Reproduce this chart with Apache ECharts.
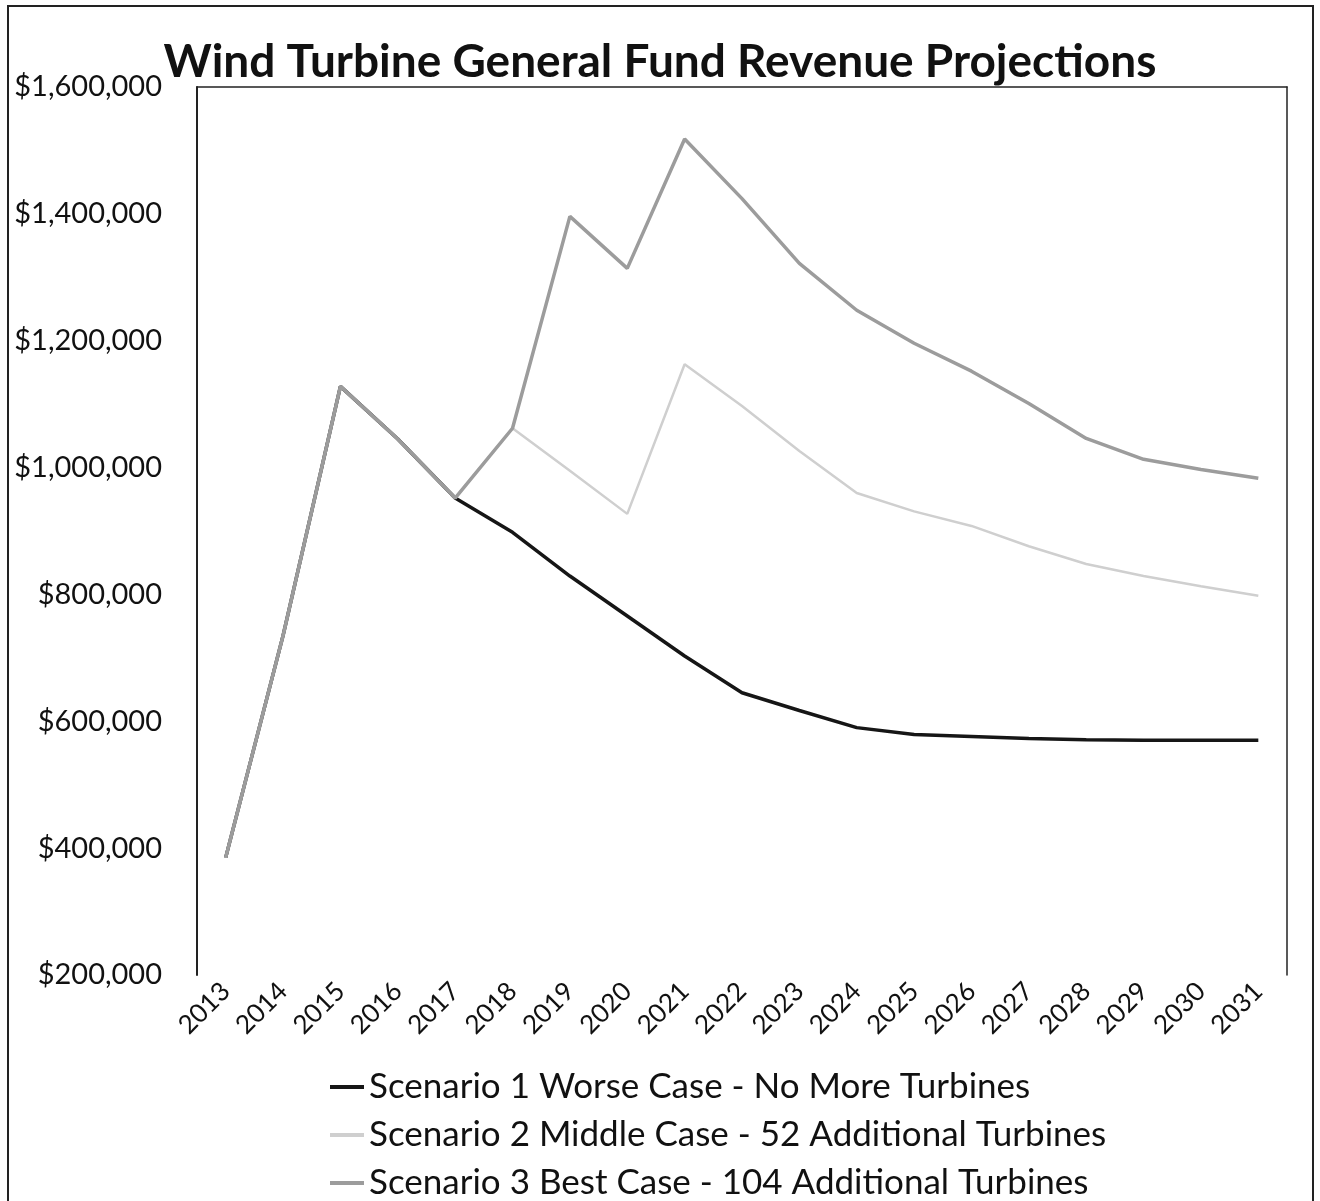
<!DOCTYPE html>
<html>
<head>
<meta charset="utf-8">
<title>Wind Turbine General Fund Revenue Projections</title>
<script src="https://cdn.jsdelivr.net/npm/echarts@6/dist/echarts.min.js"></script>
<style>
  html, body { margin: 0; padding: 0; background: #fff; }
  #chart { width: 1320px; height: 1201px; }
</style>
</head>
<body>
<div id="chart"></div>
<script>
  // years on the x axis
  var years = ['2013', '2014', '2015', '2016', '2017', '2018', '2019', '2020', '2021', '2022',
    '2023', '2024', '2025', '2026', '2027', '2028', '2029', '2030', '2031']

  // revenue per scenario
  var worseCase = [385000, 735000, 1128000, 1045000, 952000, 898000, 829000, 766000, 703000, 645000,
    617000, 590000, 579000, 576000, 573000, 571000, 570000, 570000, 570000]
  var middleCase = [385000, 735000, 1128000, 1045000, 952000, 1062000, 995000, 927000, 1163000, 1097000,
    1026000, 960000, 931000, 908000, 876000, 848000, 829000, 813000, 798000]
  var bestCase = [385000, 735000, 1128000, 1045000, 952000, 1062000, 1396000, 1314000, 1518000, 1424000,
    1322000, 1248000, 1196000, 1152000, 1101000, 1046000, 1013000, 997000, 983000]

  var seriesNames = [
    'Scenario 1 Worse Case - No More Turbines',
    'Scenario 2 Middle Case - 52 Additional Turbines',
    'Scenario 3 Best Case - 104 Additional Turbines'
  ]

  var yMin = 200000
  var yMax = 1600000
  var yStep = 200000

  var font = 'Lato, "Open Sans", sans-serif'

  function money (v) {
    return '$' + String(v).replace(/\B(?=(\d{3})+(?!\d))/g, ',')
  }

  var chart = echarts.init(document.getElementById('chart'))

  chart.setOption({
    backgroundColor: '#fff',
    animation: false,
    title: {
      text: 'Wind Turbine General Fund Revenue Projections',
      left: 'center',
      top: 34,
      textStyle: { fontFamily: font, fontSize: 46, fontWeight: 'bold', color: '#111' }
    },
    graphic: [{
      type: 'rect',
      shape: { x: 8, y: 6, width: 1305, height: 1220 },
      style: { fill: 'none', stroke: '#222', lineWidth: 2 }
    }],
    legend: {
      orient: 'vertical',
      left: 330,
      top: 1069,
      height: 200,
      padding: 0,
      itemWidth: 34,
      itemHeight: 4,
      itemGap: 12,
      icon: 'rect',
      data: seriesNames,
      textStyle: { fontFamily: font, fontSize: 35, color: '#111', lineHeight: 36 }
    },
    grid: {
      left: 197,
      right: 33,
      top: 87,
      bottom: 226
    },
    xAxis: [{
      type: 'category',
      data: years,
      boundaryGap: true,
      axisLine: { show: false },
      axisTick: { show: false },
      axisLabel: {
        rotate: 45,
        interval: 0,
        margin: 12,
        fontFamily: font,
        fontSize: 26,
        color: '#111'
      }
    }, {
      type: 'category',
      position: 'top',
      data: years,
      axisLine: { show: true, lineStyle: { color: '#222', width: 1.5 } },
      axisTick: { show: false },
      axisLabel: { show: false }
    }],
    yAxis: [{
      type: 'value',
      min: yMin,
      max: yMax,
      interval: yStep,
      axisLine: { show: true, lineStyle: { color: '#222', width: 2 } },
      axisTick: { show: false },
      splitLine: { show: false },
      axisLabel: {
        margin: 35,
        fontFamily: font,
        fontSize: 29,
        color: '#111',
        formatter: money
      }
    }, {
      type: 'value',
      position: 'right',
      min: yMin,
      max: yMax,
      interval: yStep,
      axisLine: { show: true, lineStyle: { color: '#222', width: 1.5 } },
      axisTick: { show: false },
      splitLine: { show: false },
      axisLabel: { show: false }
    }],
    series: [{
      name: seriesNames[0],
      type: 'line',
      data: worseCase,
      symbol: 'none',
      color: '#161616',
      lineStyle: { width: 3.5, color: '#161616' },
      z: 2
    }, {
      name: seriesNames[1],
      type: 'line',
      data: middleCase,
      symbol: 'none',
      color: '#cfcfcf',
      lineStyle: { width: 2.5, color: '#cfcfcf' },
      z: 3
    }, {
      name: seriesNames[2],
      type: 'line',
      data: bestCase,
      symbol: 'none',
      color: '#9c9c9c',
      lineStyle: { width: 3.5, color: '#9c9c9c' },
      z: 4
    }]
  })
</script>
</body>
</html>
